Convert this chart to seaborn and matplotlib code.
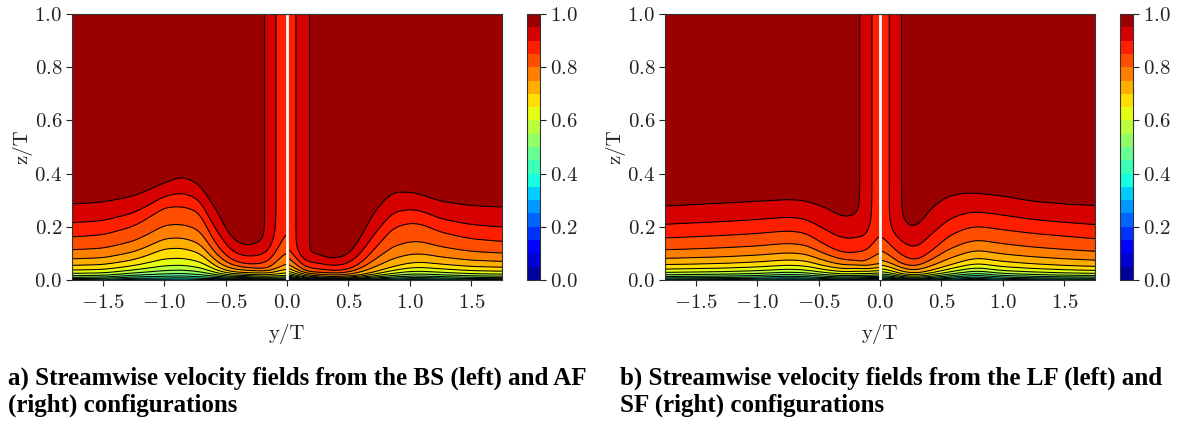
import numpy as np
import matplotlib
matplotlib.use("Agg")
import matplotlib.pyplot as plt
import seaborn as sns

# ---------------- data ----------------
# knot positions (y/T) and heights (z/T) where the normalised profile reaches 0.95, 0.85, 0.70, 0.50
BS_y   = [-1.75, -1.5, -1.25, -1.0, -0.85, -0.7, -0.55, -0.45, -0.35, -0.25, -0.15, 0.0]
BS_z95 = [0.290, 0.297, 0.320, 0.370, 0.395, 0.363, 0.255, 0.160, 0.132, 0.125, 0.100, 0.150]
BS_z85 = [0.167, 0.175, 0.207, 0.278, 0.282, 0.260, 0.125, 0.080, 0.066, 0.058, 0.048, 0.062]
BS_z70 = [0.060, 0.063, 0.081, 0.123, 0.125, 0.106, 0.050, 0.036, 0.033, 0.030, 0.025, 0.024]
BS_z50 = [0.015, 0.016, 0.023, 0.028, 0.030, 0.025, 0.018, 0.015, 0.015, 0.012, 0.010, 0.008]
BS_wake = [0.125, 0.190]      # wake deficit at y=0, wake half-width

AF_y   = [0.0, 0.15, 0.25, 0.3, 0.4, 0.5, 0.6, 0.7, 0.85, 1.0, 1.1, 1.25, 1.5, 1.75]
AF_z95 = [0.125, 0.065, 0.090, 0.085, 0.085, 0.100, 0.170, 0.260, 0.335, 0.335, 0.325, 0.300, 0.284, 0.278]
AF_z85 = [0.070, 0.037, 0.040, 0.042, 0.040, 0.045, 0.070, 0.120, 0.200, 0.220, 0.215, 0.185, 0.160, 0.150]
AF_z70 = [0.035, 0.020, 0.020, 0.018, 0.018, 0.020, 0.025, 0.035, 0.055, 0.070, 0.072, 0.065, 0.056, 0.053]
AF_z50 = [0.016, 0.009, 0.009, 0.008, 0.008, 0.008, 0.010, 0.012, 0.016, 0.020, 0.020, 0.018, 0.015, 0.014]
AF_wake = [0.114, 0.202]

LF_y   = [-1.75, -1.5, -1.25, -1.0, -0.75, -0.6, -0.45, -0.35, -0.27, -0.2, -0.1, 0.0]
LF_z95 = [0.282, 0.288, 0.294, 0.300, 0.307, 0.302, 0.278, 0.250, 0.222, 0.200, 0.130, 0.160]
LF_z85 = [0.163, 0.168, 0.173, 0.180, 0.190, 0.182, 0.140, 0.115, 0.100, 0.090, 0.065, 0.068]
LF_z70 = [0.063, 0.065, 0.068, 0.073, 0.081, 0.077, 0.058, 0.050, 0.045, 0.045, 0.035, 0.034]
LF_z50 = [0.018, 0.019, 0.020, 0.022, 0.026, 0.024, 0.019, 0.017, 0.016, 0.016, 0.014, 0.014]
LF_wake = [0.114, 0.181]

SF_y   = [0.0, 0.1, 0.2, 0.3, 0.4, 0.55, 0.7, 0.8, 1.0, 1.25, 1.5, 1.75]
SF_z95 = [0.155, 0.140, 0.160, 0.190, 0.270, 0.320, 0.332, 0.330, 0.320, 0.300, 0.290, 0.284]
SF_z85 = [0.080, 0.075, 0.070, 0.075, 0.110, 0.170, 0.200, 0.207, 0.194, 0.180, 0.170, 0.160]
SF_z70 = [0.040, 0.037, 0.030, 0.030, 0.040, 0.060, 0.080, 0.088, 0.075, 0.066, 0.060, 0.056]
SF_z50 = [0.016, 0.015, 0.012, 0.011, 0.014, 0.020, 0.027, 0.030, 0.022, 0.019, 0.017, 0.016]
SF_wake = [0.117, 0.189]

z_first = 0.005   # height of the lowest measured point above the wall (z/T)

x_ticks = [-1.5, -1.0, -0.5, 0.0, 0.5, 1.0, 1.5]
z_ticks = [0.0, 0.2, 0.4, 0.6, 0.8, 1.0]
cb_ticks = [0.0, 0.2, 0.4, 0.6, 0.8, 1.0]
captions = [["a) Streamwise velocity fields from the BS (left) and AF", "(right) configurations"],
            ["b) Streamwise velocity fields from the LF (left) and", "SF (right) configurations"]]

# ---------------- style ----------------
sns.set_style("ticks")
plt.rcParams.update({
    "font.family": "serif",
    "font.serif": ["cmr10"],
    "mathtext.fontset": "cm",
    "axes.formatter.use_mathtext": True,
    "axes.unicode_minus": True,
    "font.size": 15,
    "text.color": "#111111",
    "axes.labelcolor": "#222222",
    "xtick.color": "#222222",
    "ytick.color": "#222222",
    "xtick.direction": "out",
    "ytick.direction": "out",
    "axes.linewidth": 0.8,
    "axes.edgecolor": "#333333",
})
cmap = matplotlib.colormaps["jet"]
levels = np.linspace(0.0, 1.0, 21)


def build_half(yk, z95, z85, z70, z50, wake, side):
    ny, nz = 420, 1000
    y = np.linspace(-1.75, 0.0, ny) if side < 0 else np.linspace(0.0, 1.75, ny)
    z = np.linspace(0.0, 1.0, nz)
    dy = y[1] - y[0]

    def sm(a):
        v = np.interp(y, yk, np.log(a))
        sig = 0.045 / dy
        k = np.arange(-int(4 * sig), int(4 * sig) + 1)
        ker = np.exp(-0.5 * (k / sig) ** 2)
        ker /= ker.sum()
        vp = np.pad(v, len(k) // 2, mode="edge")
        return np.convolve(vp, ker, mode="valid")

    L95, L85, L70, L50 = sm(z95), sm(z85), sm(z70), sm(z50)
    Y, Zg = np.meshgrid(y, z)
    lz = np.log(Zg + z_first)
    s1 = 0.20 / (L70 - L50)
    s2 = 0.15 / (L85 - L70)
    s3 = 0.10 / (L95 - L85)
    g = np.where(lz < L50, 0.5 * np.exp((lz - L50) * s1 / 0.5),
        np.where(lz < L70, 0.5 + s1 * (lz - L50),
        np.where(lz < L85, 0.70 + s2 * (lz - L70), 0.85 + s3 * (lz - L85))))
    w = 0.015
    g = 1.0 - w * np.logaddexp(0.0, (1.0 - g) / w)
    u_out = 1.0 - wake[0] * np.exp(-(Y / wake[1]) ** 2)
    u = np.clip(u_out * g, 0.0, 0.9999)
    return y, z, u


W, H = 1184, 423
fig = plt.figure(figsize=(W / 100, H / 100), dpi=100)

panels = [
    (72, 527, (BS_y, BS_z95, BS_z85, BS_z70, BS_z50, BS_wake), (AF_y, AF_z95, AF_z85, AF_z70, AF_z50, AF_wake)),
    (665, 1120, (LF_y, LF_z95, LF_z85, LF_z70, LF_z50, LF_wake), (SF_y, SF_z95, SF_z85, SF_z70, SF_z50, SF_wake)),
]
top_px, bot_px = 14, 280
for i, (x0, cbx, left, right) in enumerate(panels):
    ax = fig.add_axes([x0 / W, 1 - bot_px / H, 430 / W, (bot_px - top_px) / H])
    cf = None
    for data, side in ((left, -1), (right, 1)):
        y, z, u = build_half(*data, side)
        cf = ax.contourf(y, z, u, levels=levels, cmap=cmap, vmin=0, vmax=1)
        ax.contour(y, z, u, levels=levels[1:-1], colors="k", linewidths=0.75)
    ax.axvline(0.0, color="white", lw=2.0)
    ax.set_xlim(-1.75, 1.75)
    ax.set_ylim(0.0, 1.0)
    ax.set_xticks(x_ticks)
    ax.set_yticks(z_ticks)
    ax.set_xlabel("y/T", labelpad=9)
    ax.set_ylabel("z/T", labelpad=1)
    ax.tick_params(axis="x", length=4, width=0.8, pad=6)
    ax.tick_params(axis="y", length=4, width=0.8, pad=3)

    cax = fig.add_axes([cbx / W, 1 - bot_px / H, 13 / W, (bot_px - top_px) / H])
    cb = fig.colorbar(cf, cax=cax, ticks=cb_ticks)
    cb.ax.tick_params(length=4, width=0.8, pad=3)
    cb.outline.set_linewidth(0.8)

    cx = 8 if i == 0 else 620
    for j, line in enumerate(captions[i]):
        fig.text(cx / W, 1 - (378 + 27 * j) / H, line, ha="left", va="center",
                 family="Liberation Serif", weight="bold", fontsize=18, color="black")

fig.savefig("out.png", dpi=100)
